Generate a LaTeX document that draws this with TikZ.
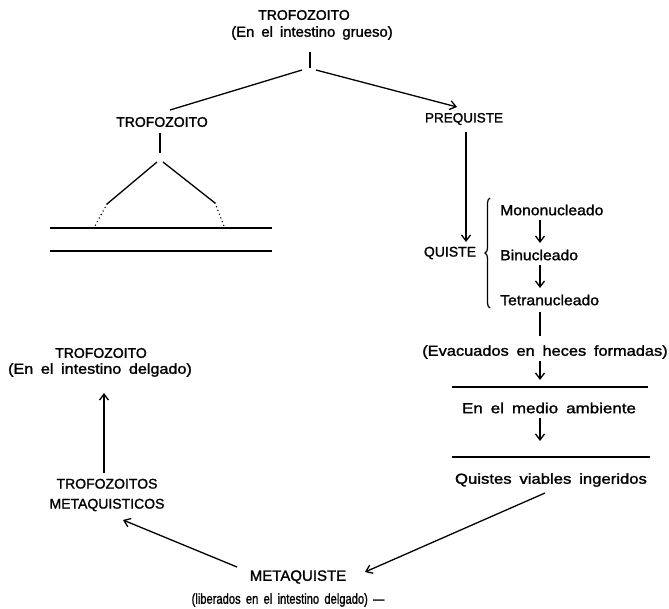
\documentclass[tikz,border=0pt]{standalone}
\usepackage{fontspec}
\setmainfont[FakeBold=1.4]{Liberation Sans}
\newfontfamily\widefont[WordSpace=1.7,FakeBold=1.4,Ligatures=TeX]{Liberation Sans}
\usetikzlibrary{arrows.meta,decorations.pathreplacing}
\newcommand\hs[2]{\scalebox{#1}[1]{#2}}
\begin{document}
\begin{tikzpicture}[x=1pt,y=-1pt,
  lbl/.style={inner sep=0pt, font=\fontsize{14}{18}\selectfont},
  txt/.style={inner sep=0pt, font=\widefont\fontsize{14.5}{18}\selectfont},
  ln/.style={line width=1.3pt},
  arr/.style={line width=1.3pt,-{Straight Barb[length=6pt,width=9pt]}},
  dotln/.style={line width=1.6pt, line cap=round, dash pattern=on 0pt off 4pt}]
\useasboundingbox (0,0) rectangle (669,608);
% top
\node[lbl] (t1) at (304,15) {TROFOZOITO};
\node[txt] (t1s) at (312,33) {\hs{1.025}{(En el intestino grueso)}};
\coordinate (tick) at (310,52);
\coordinate (fork) at (310,68);
\draw[ln] (tick) -- (fork);
\node[lbl] (t2) at (162,122) {TROFOZOITO};
\node[lbl, font=\fontsize{13.5}{16}\selectfont] (pre) at (464,119) {PREQUISTE};
\coordinate (forkL) at (302,70);
\coordinate (forkR) at (316,70);
\coordinate (t2end) at (170,110);
\coordinate (preend) at (457,107);
\draw[ln] (forkL) -- (t2end);
\draw[arr] (forkR) -- (preend);
% left tree
\coordinate (lt1) at (160,133);
\coordinate (lt2) at (160,153);
\draw[ln] (lt1) -- (lt2);
\coordinate (la) at (157,162);
\coordinate (lb) at (163,162);
\coordinate (dl1) at (107,204);
\coordinate (dl2) at (215,203);
\coordinate (de1) at (95,226);
\coordinate (de2) at (224,226);
\draw[ln] (la) -- (dl1);
\draw[ln] (lb) -- (dl2);
\draw[dotln] (dl1) -- (de1);
\draw[dotln] (dl2) -- (de2);
\coordinate (h1a) at (50,228); \coordinate (h1b) at (272,228);
\coordinate (h2a) at (50,251); \coordinate (h2b) at (272,251);
\draw[ln] (h1a) -- (h1b);
\draw[ln] (h2a) -- (h2b);
% cyst branch
\node[lbl] (qui) at (450,253) {QUISTE};
\coordinate (pretop) at (466,132);
\coordinate (prebot) at (466,242);
\draw[arr] (pretop) -- (prebot);
\coordinate (bt) at (490,308);
\coordinate (bb) at (490,198);
\draw[line width=1.2pt, decorate, decoration={brace, amplitude=5pt}] (bt) -- (bb);
\node[txt, anchor=west] (mono) at (500,210) {\hs{1.085}{Mononucleado}};
\node[txt, anchor=west] (bin) at (500,255) {\hs{1.085}{Binucleado}};
\node[txt, anchor=west] (tetra) at (500,300) {\hs{1.085}{Tetranucleado}};
\coordinate (a1s) at (540,220); \coordinate (a1e) at (540,243);
\coordinate (a2s) at (540,265); \coordinate (a2e) at (540,288);
\draw[arr] (a1s) -- (a1e);
\draw[arr] (a2s) -- (a2e);
\coordinate (t3s) at (540,312); \coordinate (t3e) at (540,336);
\draw[ln] (t3s) -- (t3e);
\node[txt] (evac) at (545,352) {\hs{1.13}{(Evacuados en heces formadas)}};
\coordinate (a3s) at (540,361); \coordinate (a3e) at (540,380);
\draw[arr] (a3s) -- (a3e);
\coordinate (l1a) at (452,387); \coordinate (l1b) at (648,387);
\draw[ln] (l1a) -- (l1b);
\node[txt] (medio) at (549,408) {\hs{1.17}{En el medio ambiente}};
\coordinate (a4s) at (540,418); \coordinate (a4e) at (540,441);
\draw[arr] (a4s) -- (a4e);
\coordinate (l2a) at (452,457); \coordinate (l2b) at (650,457);
\draw[ln] (l2a) -- (l2b);
\node[txt] (ing) at (551,480) {\hs{1.15}{Quistes viables ingeridos}};
% bottom
\node[lbl, font=\fontsize{15}{18}\selectfont] (meta) at (298,577) {METAQUISTE};
\node[txt] (lib) at (288,600) {\hs{0.77}{(liberados en el intestino delgado) —}};
\coordinate (ingend) at (545,493);
\coordinate (metaend) at (365,572);
\draw[arr] (ingend) -- (metaend);
\node[lbl, align=center] (tm) at (107,495) {TROFOZOITOS\\[2pt]METAQUISTICOS};
\coordinate (metastart) at (237,567);
\coordinate (tmend) at (123,520);
\draw[arr] (metastart) -- (tmend);
\node[lbl] (t3) at (101,353) {TROFOZOITO};
\node[txt] (t3s) at (100,370) {\hs{1.115}{(En el intestino delgado)}};
\coordinate (ups) at (104,473);
\coordinate (upe) at (104,393);
\draw[arr] (ups) -- (upe);
\end{tikzpicture}
\end{document}
